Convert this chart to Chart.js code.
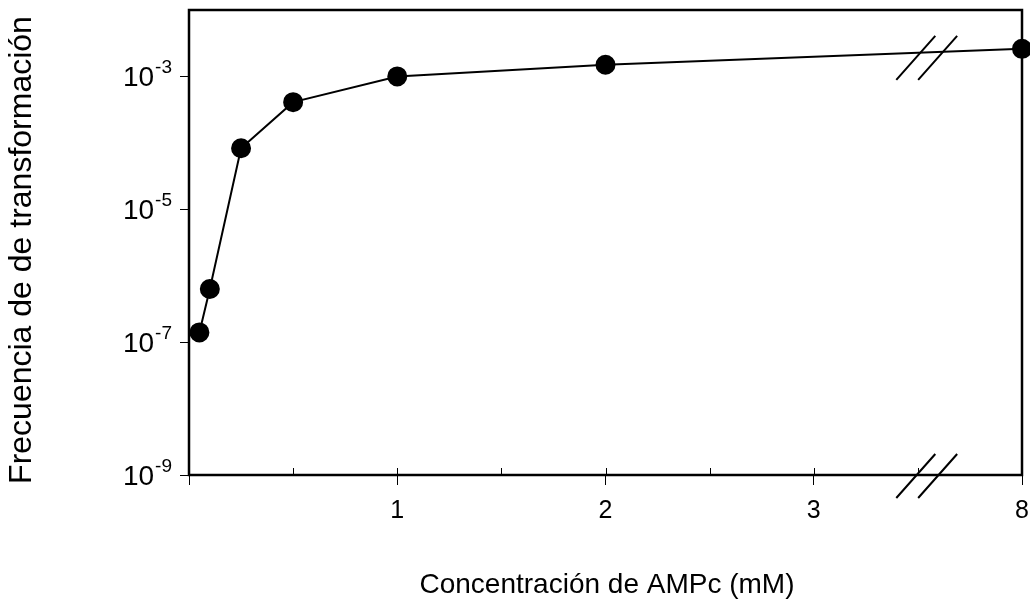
<!DOCTYPE html>
<html><head><meta charset="utf-8">
<script src="https://cdn.jsdelivr.net/npm/chart.js@4.4.0/dist/chart.umd.min.js"></script>
<style>html,body{margin:0;padding:0;background:#fff}#wrap{width:1030px;height:607px;position:relative}</style>
</head><body><div id="wrap"><canvas id="c"></canvas></div>
<script>
// axis position of each measurement (position 4 is 8 mM, after the axis break)
const concentrations = [0.05, 0.1, 0.25, 0.5, 1, 2, 4];
const frequency = [1.4e-7, 6.3e-7, 8.3e-5, 4.1e-4, 1.0e-3, 1.5e-3, 2.6e-3];
const xTickValues = [0, 0.5, 1, 1.5, 2, 2.5, 3, 3.5, 4];
const xTickLabels = {1: '1', 2: '2', 3: '3', 4: '8'};
const yTickExponents = [-9, -7, -5, -3];
const xTitle = 'Concentración de AMPc (mM)';
const yTitle = 'Frecuencia de de transformación';
const breakPositions = [3.49, 3.595];

const FONT = '"Liberation Sans", Arial, sans-serif';

const decor = {
  id: 'decor',
  beforeDatasetsDraw(chart) {
    const {ctx, chartArea: a, scales: {x, y}} = chart;
    ctx.save();
    // frame
    ctx.strokeStyle = '#000';
    ctx.lineWidth = 2.5;
    ctx.strokeRect(a.left, a.top, a.right - a.left, a.bottom - a.top);
    // inside tick marks on x axis
    ctx.lineWidth = 1;
    ctx.beginPath();
    xTickValues.forEach(v => {
      if (v === 0 || v === 4) return;
      const px = Math.round(x.getPixelForValue(v)) + 0.5;
      ctx.moveTo(px, a.bottom);
      ctx.lineTo(px, a.bottom - 7);
    });
    ctx.stroke();
    // y tick labels 10^n
    ctx.fillStyle = '#000';
    ctx.textBaseline = 'alphabetic';
    yTickExponents.forEach(e => {
      const py = y.getPixelForValue(Math.pow(10, e));
      const right = a.left - 17;
      ctx.font = '19px ' + FONT;
      ctx.textAlign = 'right';
      const sup = String(e);
      const sw = ctx.measureText(sup).width;
      ctx.fillText(sup, right, py - 3);
      ctx.font = '28px ' + FONT;
      ctx.fillText('10', right - sw - 1, py + 10);
    });
    // axis titles
    ctx.font = '28px ' + FONT;
    ctx.textAlign = 'center';
    ctx.textBaseline = 'middle';
    ctx.fillText(xTitle, 607, 585);
    ctx.save();
    ctx.translate(22, 250);
    ctx.rotate(-Math.PI / 2);
    ctx.font = '32px ' + FONT;
    ctx.fillText(yTitle, 0, 0);
    ctx.restore();
    // bottom break marks
    ctx.lineWidth = 2;
    ctx.beginPath();
    breakPositions.forEach(v => {
      const cx = x.getPixelForValue(v);
      ctx.moveTo(cx - 19.5, a.bottom + 23);
      ctx.lineTo(cx + 19.5, a.bottom - 21);
    });
    ctx.stroke();
    ctx.restore();
  },
  afterDatasetsDraw(chart) {
    const {ctx, scales: {x, y}} = chart;
    ctx.save();
    ctx.strokeStyle = '#000';
    ctx.lineWidth = 2;
    const cy = y.getPixelForValue(1.9e-3);
    ctx.beginPath();
    breakPositions.forEach(v => {
      const cx = x.getPixelForValue(v);
      ctx.moveTo(cx - 19.5, cy + 22);
      ctx.lineTo(cx + 19.5, cy - 22);
    });
    ctx.stroke();
    ctx.restore();
  }
};

new Chart(document.getElementById('c'), {
  type: 'scatter',
  data: {
    datasets: [{
      data: concentrations.map((c, i) => ({x: c, y: frequency[i]})),
      showLine: true,
      borderColor: '#000',
      borderWidth: 2,
      backgroundColor: '#000',
      pointRadius: 9,
      pointHoverRadius: 9,
      pointBackgroundColor: '#000',
      pointBorderColor: '#000',
      clip: false
    }]
  },
  options: {
    responsive: true,
    maintainAspectRatio: false,
    animation: false,
    events: [],
    layout: {autoPadding: false, padding: {top: 10, right: 8, left: 0, bottom: 0}},
    plugins: {legend: {display: false}, tooltip: {enabled: false}},
    scales: {
      x: {
        type: 'linear',
        min: 0, max: 4,
        afterBuildTicks: s => { s.ticks = xTickValues.map(v => ({value: v})); },
        afterFit: s => { s.height = 132; s.paddingLeft = 0; s.paddingRight = 0; },
        border: {display: false},
        grid: {
          display: true,
          drawOnChartArea: false,
          drawTicks: true,
          tickLength: 10,
          lineWidth: 1,
          color: c => (c.tick && Number.isInteger(c.tick.value)) ? '#000' : 'rgba(0,0,0,0)'
        },
        ticks: {
          autoSkip: false,
          maxRotation: 0,
          padding: 11,
          color: '#000',
          font: {family: FONT, size: 25},
          callback: v => xTickLabels[v] || ''
        }
      },
      y: {
        type: 'logarithmic',
        min: 1e-9, max: 1e-2,
        afterBuildTicks: s => { s.ticks = yTickExponents.map(e => ({value: Math.pow(10, e)})); },
        afterFit: s => { s.width = 189; s.paddingTop = 0; s.paddingBottom = 0; },
        border: {display: false},
        grid: {
          display: true,
          drawOnChartArea: false,
          drawTicks: true,
          tickLength: 9,
          lineWidth: 1,
          color: '#000'
        },
        ticks: {display: false}
      }
    }
  },
  plugins: [decor]
});
</script>
</body></html>
